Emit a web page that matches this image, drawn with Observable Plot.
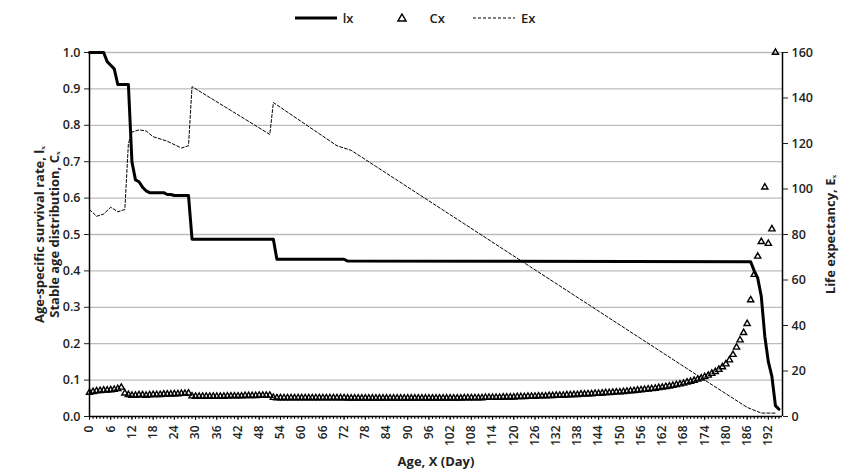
<!DOCTYPE html>
<html><head><meta charset="utf-8">
<script src="https://cdn.jsdelivr.net/npm/d3@7"></script>
<script src="https://cdn.jsdelivr.net/npm/@observablehq/plot@0.6"></script>
<style>
body{margin:0;background:#fff;font-family:"Open Sans",sans-serif;}
#legend{height:35px;display:flex;justify-content:center;align-items:center;gap:28px;font-size:13px;font-weight:600;color:#222;padding-right:20px}
#legend span{display:flex;align-items:center;gap:6px}
</style></head><body>
<div id="legend">
<span><svg width="42" height="10"><line x1="0" x2="42" y1="5" y2="5" stroke="#000" stroke-width="3"/></svg>lx</span>
<span><svg width="42" height="10"><path d="M21,1L25,8L17,8Z" fill="none" stroke="#000" stroke-width="1.5"/></svg>Cx</span>
<span><svg width="42" height="10"><line x1="0" x2="42" y1="5" y2="5" stroke="#000" stroke-width="1" stroke-dasharray="3,2"/></svg>Ex</span>
</div>
<div id="chart"></div>
<script>
const lxDays = [0,4,5,6,7,8,11,12,13,14,15,16,17,21,22,23,24,28,29,52,53,72,73,187,188,189,190,191,192,193,194,195];
const lxVals = [1,1,0.975,0.965,0.955,0.912,0.912,0.70,0.65,0.645,0.63,0.62,0.615,0.615,0.61,0.61,0.607,0.607,0.487,0.487,0.432,0.432,0.427,0.425,0.40,0.38,0.33,0.22,0.15,0.11,0.03,0.02];
const exDays = [0,2,4,6,8,10,11,12,14,16,18,22,26,28,29,51,52,70,72,74,174,178,182,186,190,194];
const exVals = [91,88,89,92,90,91,120,125,126,125.5,123,121,118,119,145,124,138,119,118,117,16,12,8,4,1.5,1.5];
const cx = [
.066,.068,.070,.071,.072,.072,.073,.074,.076,.080,
.064,.060,.058,.058,.059,.059,.058,.059,.060,.060,
.060,.061,.061,.061,.062,.062,.063,.063,.064,.056,
.055,.055,.055,.055,.055,.055,.055,.055,.055,.056,
.056,.056,.056,.056,.057,.057,.057,.057,.058,.058,
.058,.058,.052,.051,.051,.051,.051,.051,.051,.051,
.051,.051,.051,.051,.051,.051,.051,.051,.051,.051,
.051,.051,.051,.050,.050,.050,.050,.050,.050,.050,
.050,.050,.050,.050,.050,.050,.050,.050,.050,.050,
.050,.050,.050,.050,.050,.050,.050,.050,.050,.050,
.050,.050,.050,.050,.050,.050,.051,.051,.051,.051,
.051,.051,.052,.052,.052,.052,.052,.053,.053,.053,
.053,.054,.054,.054,.055,.055,.055,.056,.056,.056,
.057,.057,.058,.058,.058,.059,.059,.060,.060,.061,
.061,.062,.062,.063,.063,.064,.065,.065,.066,.067,
.067,.068,.069,.070,.071,.072,.073,.074,.075,.076,
.077,.079,.080,.082,.083,.085,.087,.089,.091,.094,
.096,.099,.102,.105,.109,.113,.118,.123,.129,.136,
.144,.155,.170,.190,.210,.230,.255,.320,.390,.440,
.480,.630,.475,.515,1.0];
const xTicks = d3.range(0, 193, 6);
const leftTicks = d3.range(0, 1.01, 0.1);
const rightTicks = d3.range(0, 161, 20);
const EMAX = 160;

const lx = lxDays.map((d,i)=>({x:d,y:lxVals[i]}));
const ex = exDays.map((d,i)=>({x:d,y:exVals[i]/EMAX}));
const cd = cx.map((v,i)=>({x:i,y:v}));
const F = "Open Sans";
const chart = Plot.plot({
  width:850, height:440, marginTop:17, marginBottom:59, marginLeft:89, marginRight:68,
  style:{fontFamily:F, fontSize:"12px", fontWeight:"600", color:"#222"},
  x:{type:"linear", domain:[0,196]}, y:{type:"linear", domain:[0,1]},
  marks:[
    Plot.ruleY(leftTicks.slice(1), {stroke:"#bbb", strokeWidth:1.3}),
    Plot.axisX({ticks:xTicks, tickRotate:-90, tickSize:4, label:null, fontSize:12}),
    Plot.ruleX(d3.range(0,196,1),{y1:0, y2:-0.008, stroke:"#000", clip:false}),
    Plot.axisY({ticks:leftTicks, tickFormat:".1f", tickSize:5, label:null, fontSize:12.5}),
    Plot.axisY({anchor:"right", ticks:rightTicks.map(v=>v/EMAX), tickFormat:v=>Math.round(v*EMAX), tickSize:5, label:null, fontSize:12.5}),
    Plot.ruleX([0],{stroke:"#000", strokeWidth:1.5}),
    Plot.ruleX([196],{stroke:"#000", strokeWidth:1.5}),
    Plot.ruleY([0],{stroke:"#000", strokeWidth:1.5}),
    Plot.line(ex,{x:"x",y:"y",stroke:"#000",strokeWidth:1,strokeDasharray:"3,2"}),
    Plot.dot(cd,{x:"x",y:"y",symbol:"triangle",r:2.3,stroke:"#000",strokeWidth:1.4,fill:"none"}),
    Plot.line(lx,{x:"x",y:"y",stroke:"#000",strokeWidth:3}),
    Plot.text(["Age-specific survival rate, lₓ\nStable age distribution, Cₓ"],{frameAnchor:"left",textAnchor:"middle",rotate:-90,dx:-43,fontSize:13,fontWeight:"bold",lineHeight:1.2}),
    Plot.text(["Life expectancy, Eₓ"],{frameAnchor:"right",textAnchor:"middle",rotate:-90,dx:48,fontSize:13,fontWeight:"bold"}),
    Plot.text(["Age, X (Day)"],{frameAnchor:"bottom",dy:49,fontSize:13,fontWeight:"bold"})
  ]
});
document.getElementById("chart").append(chart);
</script></body></html>
